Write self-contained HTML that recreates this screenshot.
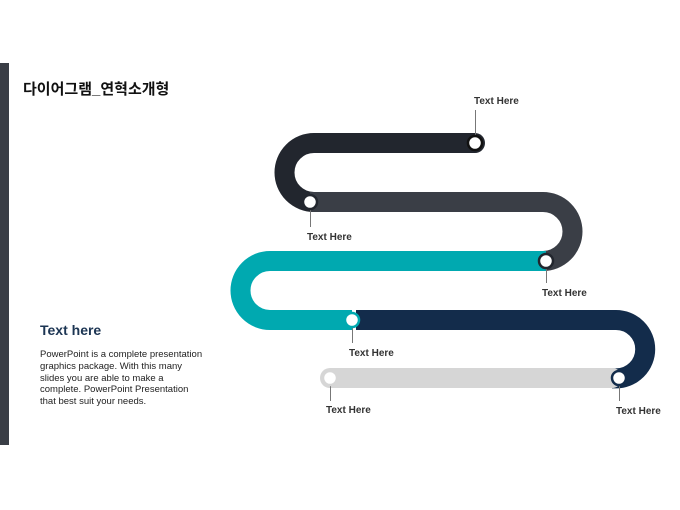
<!DOCTYPE html>
<html><head><meta charset="utf-8"><style>
body{margin:0;width:680px;height:510px;background:#fff;overflow:hidden;position:relative;font-family:"Liberation Sans","Noto Sans CJK KR",sans-serif}
.bar{position:absolute;left:0;top:63px;width:9px;height:382px;background:#3a3e46}
.t{position:absolute;left:23px;top:78px;font-size:15px;font-weight:bold;color:#111}
.h{position:absolute;left:40px;top:322px;font-size:14px;font-weight:bold;color:#1c3553}
.p{position:absolute;left:40px;top:349px;font-size:9.5px;line-height:11.8px;color:#222;white-space:nowrap}
</style></head><body>
<div class="bar"></div>
<div class="t">다이어그램_연혁소개형</div>
<div class="h">Text here</div>
<div class="p">PowerPoint is a complete presentation<br>graphics package. With this many<br>slides you are able to make a<br>complete. PowerPoint Presentation<br>that best suit your needs.</div>
<svg width="680" height="510" style="position:absolute;left:0;top:0" font-family="Liberation Sans, sans-serif" font-size="10" font-weight="bold" fill="#333">
<g fill="none" stroke-width="20">
<path d="M475,143 H314 A29.5,29.5 0 0 0 314,202 H320" stroke="#22262e"/>
<path d="M310,202 H543 A29.5,29.5 0 0 1 543,261 H540" stroke="#3a3e46"/>
<path d="M546,261 H270 A29.5,29.5 0 0 0 270,320 H352" stroke="#00a9b0"/>
<path d="M356,320 H616 A29.2,29.2 0 0 1 616,378.4 H612" stroke="#132c4b"/>
<path d="M612,378 H330" stroke="#d6d6d6" stroke-linecap="round"/>
</g>
<path d="M475,143 H475" stroke="#22262e" stroke-width="20" stroke-linecap="round"/>
<g stroke="#777" stroke-width="1">
<line x1="475.5" y1="110" x2="475.5" y2="136"/>
<line x1="310.5" y1="209" x2="310.5" y2="227"/>
<line x1="546.5" y1="268" x2="546.5" y2="283"/>
<line x1="352.5" y1="327" x2="352.5" y2="343"/>
<line x1="330.5" y1="385" x2="330.5" y2="401"/>
<line x1="619.5" y1="385" x2="619.5" y2="401"/>
</g>
<g fill="#fff" stroke-width="2.5">
<circle cx="475" cy="143" r="7" stroke="#111"/>
<circle cx="310" cy="202" r="7" stroke="#22262e"/>
<circle cx="546" cy="261" r="7" stroke="#22262e"/>
<circle cx="352" cy="320" r="7" stroke="#00a9b0"/>
<circle cx="330" cy="378" r="7" stroke="#d6d6d6"/>
<circle cx="619" cy="378" r="7" stroke="#132c4b"/>
</g>
<text x="474" y="104">Text Here</text>
<text x="307" y="240">Text Here</text>
<text x="542" y="296">Text Here</text>
<text x="349" y="356">Text Here</text>
<text x="326" y="413">Text Here</text>
<text x="616" y="414">Text Here</text>
</svg>
</body></html>
